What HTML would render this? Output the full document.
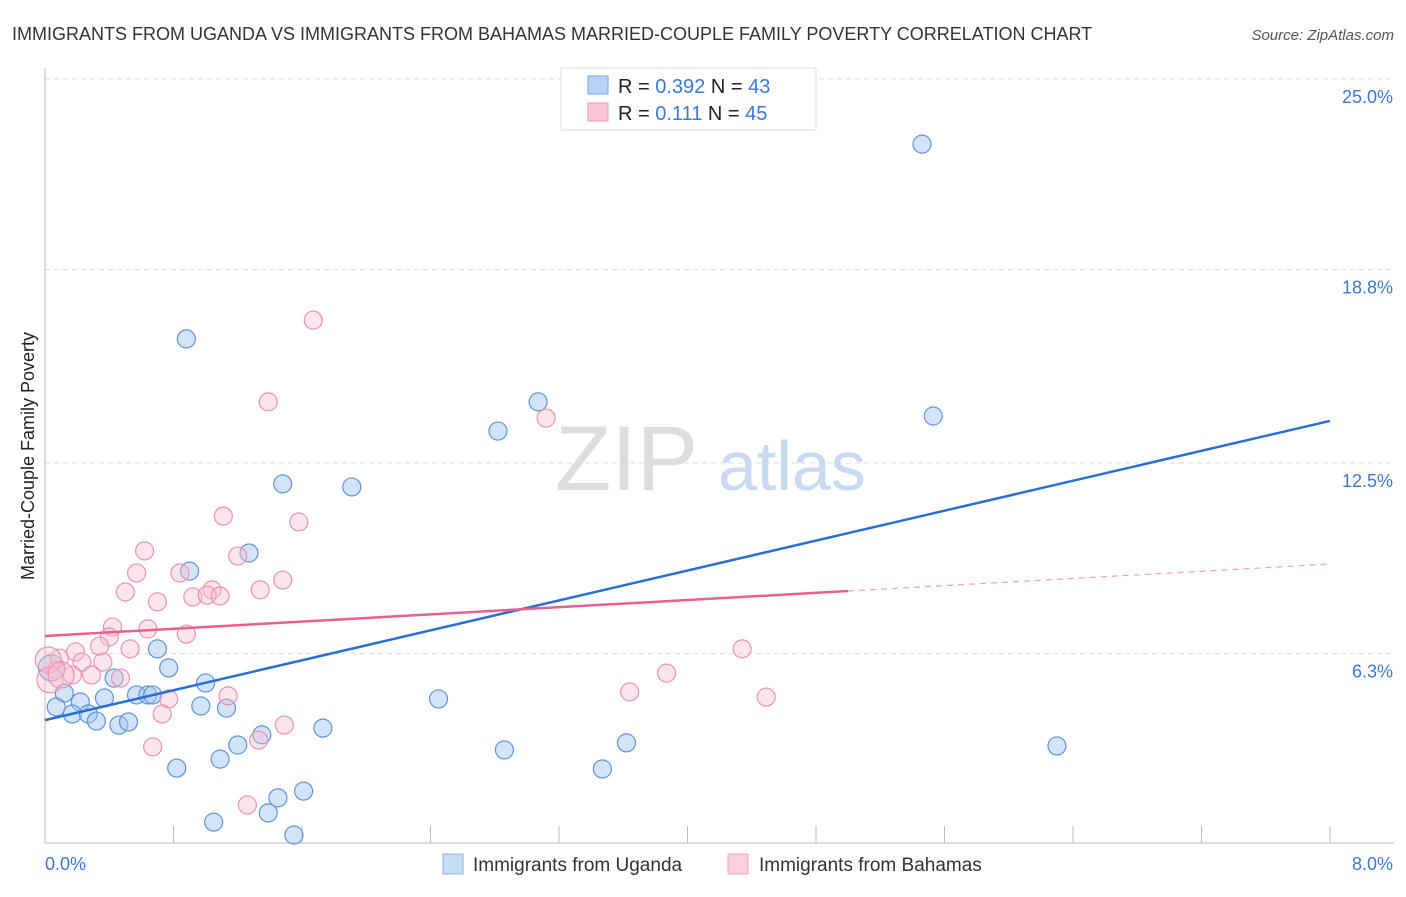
<!DOCTYPE html>
<html><head><meta charset="utf-8"><style>
body{margin:0;background:#fff;font-family:"Liberation Sans",sans-serif}
svg text{font-family:"Liberation Sans",sans-serif}
</style></head><body>
<svg id="c" width="1406" height="892">
<text x="12" y="40" font-size="18" fill="#333">IMMIGRANTS FROM UGANDA VS IMMIGRANTS FROM BAHAMAS MARRIED-COUPLE FAMILY POVERTY CORRELATION CHART</text>
<text x="1394" y="40" font-size="15" fill="#555" font-style="italic" text-anchor="end">Source: ZipAtlas.com</text>
<text x="555" y="490" font-size="92" fill="#ddd" font-family="Liberation Serif">ZIP</text>
<text x="718" y="490" font-size="70" fill="#c8daf2">atlas</text>
<text transform="translate(34,456) rotate(-90)" font-size="18" fill="#222" text-anchor="middle">Married-Couple Family Poverty</text>
<g id="grid"></g><g id="pts"></g><g id="lines"></g>
<g>
<rect x="561" y="68" width="255" height="62" fill="#fff" stroke="#ddd"/>
<rect x="588" y="76" width="20" height="18" fill="#b8d2f6" stroke="#7aa6e6"/>
<rect x="588" y="103" width="20" height="18" fill="#f9c7d6" stroke="#ee9ab4"/>
<text x="618" y="93" font-size="20" fill="#222">R = <tspan fill="#3b78d8">0.392</tspan>   N = <tspan fill="#3b78d8">43</tspan></text>
<text x="618" y="120" font-size="20" fill="#222">R = <tspan fill="#3b78d8">  0.111</tspan>   N = <tspan fill="#3b78d8">45</tspan></text>
</g>
<g>
<rect x="443" y="854" width="20" height="20" fill="#c8dcf6" stroke="#8ab0e6"/>
<text x="473" y="871" font-size="19" fill="#333">Immigrants from Uganda</text>
<rect x="728" y="854" width="20" height="20" fill="#f9d0dc" stroke="#eea6bc"/>
<text x="759" y="871" font-size="19" fill="#333">Immigrants from Bahamas</text>
</g>
</svg>
<script>
const yTicks=[6.3,12.5,18.8,25.0];
const xTickLabels=["0.0%","8.0%"];
const ugX=[0.88,5.46,5.53,3.07,2.82,1.91,1.48,1.27,0.90,0.70,0.77,1.00,0.97,1.13,0.57,0.64,0.67,0.43,0.37,0.22,0.12,0.07,0.17,0.27,0.32,0.46,0.52,1.20,1.09,1.35,1.73,2.45,2.86,3.62,3.47,6.30,0.82,1.05,1.45,1.39,1.61,1.55,0.04];
const ugY=[16.54,22.88,14.03,14.49,13.54,11.72,11.82,9.57,8.98,6.45,5.83,5.34,4.59,4.52,4.95,4.95,4.95,5.50,4.85,4.72,5.01,4.56,4.33,4.33,4.10,3.97,4.07,3.32,2.86,3.65,3.87,4.82,3.16,3.39,2.54,3.29,2.57,0.81,1.60,1.11,1.82,0.39,5.83];
const bhX=[1.67,1.39,3.12,1.58,1.11,0.62,1.20,0.57,0.50,0.70,0.92,1.04,1.01,1.09,1.48,1.34,0.84,0.64,0.42,0.40,0.88,0.34,0.53,0.19,0.09,0.23,0.36,0.07,0.17,0.29,0.47,0.77,1.14,0.73,1.49,1.33,0.67,1.26,3.64,3.87,4.34,4.49,0.02,0.03,0.10];
const bhY=[17.15,14.49,13.96,10.58,10.77,9.64,9.47,8.92,8.30,7.98,8.14,8.37,8.20,8.17,8.69,8.37,8.92,7.10,7.16,6.84,6.93,6.54,6.45,6.35,6.15,6.02,6.02,5.76,5.60,5.60,5.50,4.82,4.92,4.33,3.97,3.48,3.26,1.37,5.05,5.66,6.45,4.88,6.09,5.44,5.60];
const ugTrend=[4.13,13.87];
const bhTrend=[6.87,9.21];
const bhSolidEnd=5.0;
const X=v=>45+v*1285/8, Y=v=>847-v*30.72;
const NS="http://www.w3.org/2000/svg";
function mk(p,t,a){const e=document.createElementNS(NS,t);for(const k in a)e.setAttribute(k,a[k]);p.appendChild(e);return e;}
const g=document.getElementById('grid');
yTicks.forEach((t,i)=>{const yy=Y(t*(t===25?1:1));
 const l=mk(g,'line',{x1:45,x2:1394,y1:Y(t),y2:Y(t),stroke:'#ddd','stroke-dasharray':'5,4'});
 
 
 const tx=mk(g,'text',{x:1393,y:Y(t)+24,'font-size':18,fill:'#3b78d8','text-anchor':'end'});tx.textContent=t.toFixed(1)+'%';
 
 
});
mk(g,'line',{x1:45,x2:45,y1:68,y2:843,stroke:'#bbb'});
mk(g,'line',{x1:45,x2:1394,y1:843,y2:843,stroke:'#bbb'});
for(let i=1;i<=10;i++){const l=mk(g,'line',{x1:45+i*128.5,x2:45+i*128.5,y1:826,y2:843,stroke:'#bbb'});
 
 }
xTickLabels.forEach((s,i)=>{const t=mk(g,'text',{x:i?1393:45,y:870,'font-size':18,fill:'#3b78d8','text-anchor':i?'end':'start'});t.textContent=s;
 
 });
const p=document.getElementById('pts');
ugX.forEach((x,i)=>{const c=mk(p,'circle',{cx:X(x),cy:Y(ugY[i]),r:i===ugX.length-1?13:9,fill:'rgba(160,196,240,0.45)',stroke:'#5f93dc','stroke-width':1.2});
 
 });
bhX.forEach((x,i)=>{const c=mk(p,'circle',{cx:X(x),cy:Y(bhY[i]),r:i>=bhX.length-3?13:9,fill:'rgba(248,190,208,0.4)',stroke:'#ec93ae','stroke-width':1.2});
 
 });
const L=document.getElementById('lines');
const bl=mk(L,'line',{x1:X(0),y1:Y(ugTrend[0]),x2:X(8),y2:Y(ugTrend[1]),stroke:'#2a6fd6','stroke-width':2.5});


const bm=v=>bhTrend[0]+(bhTrend[1]-bhTrend[0])*v/8;
const pl=mk(L,'line',{x1:X(0),y1:Y(bhTrend[0]),x2:X(bhSolidEnd),y2:Y(bm(bhSolidEnd)),stroke:'#e8608d','stroke-width':2.5});


const pd=mk(L,'line',{x1:X(bhSolidEnd),y1:Y(bm(bhSolidEnd)),x2:X(8),y2:Y(bhTrend[1]),stroke:'#eea0b8','stroke-width':1.2,'stroke-dasharray':'6,5'});


</script>
</body></html>
